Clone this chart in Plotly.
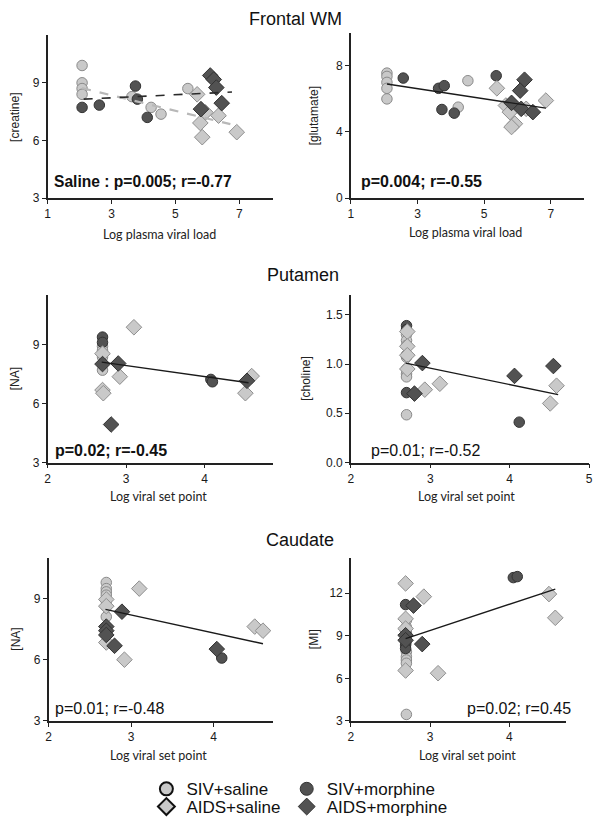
import plotly.graph_objects as go

# page body has an 8px margin, so the figure is shifted by OFF pixels
OFF = 8
W, H = 602 - OFF, 825 - OFF

# ---------------- DATA ----------------
# Panel 1: Frontal WM creatine vs log plasma viral load
p1_siv_sal_x = [2.08, 2.08, 2.08, 2.08, 3.64, 4.24, 4.55, 5.39]
p1_siv_sal_y = [9.9, 9.0, 8.7, 8.4, 8.28, 7.72, 7.37, 8.7]
p1_siv_mor_x = [2.08, 2.62, 3.75, 3.81, 4.12]
p1_siv_mor_y = [7.72, 7.84, 8.83, 8.15, 7.2]
p1_aids_sal_x = [5.68, 5.94, 5.78, 5.84, 6.35, 6.92]
p1_aids_sal_y = [8.4, 7.46, 6.91, 6.17, 7.29, 6.43]
p1_aids_mor_x = [6.09, 6.2, 6.28, 6.45, 5.8]
p1_aids_mor_y = [9.38, 9.17, 8.75, 7.94, 7.63]
p1_fit_mor_x = [2.13, 6.77]
p1_fit_mor_y = [8.15, 8.52]
p1_fit_sal_x = [2.08, 6.72]
p1_fit_sal_y = [8.72, 6.85]

# Panel 2: Frontal WM glutamate vs log plasma viral load
p2_siv_sal_x = [2.08, 2.08, 2.08, 2.08, 2.08, 4.51, 4.22]
p2_siv_sal_y = [7.56, 7.36, 7.0, 6.64, 6.0, 7.1, 5.5]
p2_siv_mor_x = [2.57, 3.63, 3.8, 3.73, 4.1, 5.36]
p2_siv_mor_y = [7.26, 6.64, 6.8, 5.36, 5.14, 7.4]
p2_aids_sal_x = [5.38, 5.65, 5.77, 5.92, 5.82, 6.85, 6.26]
p2_aids_sal_y = [6.64, 5.6, 5.2, 4.5, 4.3, 5.9, 5.4]
p2_aids_mor_x = [6.21, 6.08, 5.82, 6.11, 6.46]
p2_aids_mor_y = [7.16, 6.5, 5.76, 5.4, 5.2]
p2_fit_x = [2.08, 6.85]
p2_fit_y = [6.9, 5.44]

# Panel 3: Putamen NA vs log viral set point
p3_siv_sal_x = [2.7, 2.7, 2.7, 2.7, 2.7]
p3_siv_sal_y = [8.9, 8.7, 8.53, 8.36, 7.69]
p3_siv_mor_x = [2.7, 2.7, 2.7, 4.08, 4.1]
p3_siv_mor_y = [9.37, 9.1, 8.0, 7.22, 7.1]
p3_aids_sal_x = [2.7, 2.7, 2.71, 3.1, 2.92, 4.52, 4.6]
p3_aids_sal_y = [8.53, 6.68, 6.52, 9.87, 7.36, 6.52, 7.39]
p3_aids_mor_x = [2.81, 2.9, 4.54, 2.7]
p3_aids_mor_y = [4.93, 8.03, 7.15, 8.0]
p3_fit_x = [2.69, 4.56]
p3_fit_y = [8.1, 7.05]

# Panel 4: Putamen choline vs log viral set point
p4_siv_sal_x = [2.7, 2.7, 2.7, 2.7, 2.7, 2.7, 2.7, 2.7]
p4_siv_sal_y = [1.3, 1.24, 1.19, 1.07, 0.95, 0.9, 0.87, 0.485]
p4_siv_mor_x = [2.7, 2.7, 2.7, 2.7, 4.12]
p4_siv_mor_y = [1.39, 1.35, 1.09, 0.71, 0.41]
p4_aids_sal_x = [2.71, 2.71, 2.71, 2.71, 2.93, 3.12, 4.51, 4.59]
p4_aids_sal_y = [1.33, 1.18, 1.09, 0.95, 0.74, 0.8, 0.6, 0.78]
p4_aids_mor_x = [2.9, 2.8, 4.06, 4.55]
p4_aids_mor_y = [1.01, 0.7, 0.88, 0.98]
p4_fit_x = [2.69, 4.61]
p4_fit_y = [1.01, 0.69]

# Panel 5: Caudate NA vs log viral set point
p5_siv_sal_x = [2.7, 2.7, 2.7, 2.7, 2.7, 2.7, 2.7]
p5_siv_sal_y = [9.78, 9.48, 9.32, 9.16, 8.88, 8.59, 8.1]
p5_siv_mor_x = [4.1]
p5_siv_mor_y = [6.08]
p5_aids_sal_x = [2.7, 2.7, 2.7, 3.1, 2.92, 4.5, 4.6]
p5_aids_sal_y = [8.95, 8.62, 6.84, 9.48, 6.0, 7.62, 7.42]
p5_aids_mor_x = [2.7, 2.7, 2.7, 2.8, 2.89, 4.04]
p5_aids_mor_y = [7.62, 7.42, 7.21, 6.68, 8.35, 6.52]
p5_fit_x = [2.69, 4.6]
p5_fit_y = [8.46, 6.78]

# Panel 6: Caudate MI vs log viral set point
p6_siv_sal_x = [2.7, 2.7, 2.7, 2.7, 2.7, 2.7, 2.7, 2.7, 2.7]
p6_siv_sal_y = [10.08, 9.6, 9.15, 8.57, 7.87, 7.52, 7.29, 7.06, 3.46]
p6_siv_mor_x = [2.69, 2.69, 2.69, 2.69, 2.69, 4.05, 4.1]
p6_siv_mor_y = [11.19, 9.3, 8.68, 8.34, 8.1, 13.09, 13.16]
p6_aids_sal_x = [2.69, 2.69, 2.69, 2.69, 2.92, 3.1, 4.5, 4.58]
p6_aids_sal_y = [12.68, 10.19, 9.5, 6.55, 11.75, 6.36, 11.93, 10.26]
p6_aids_mor_x = [2.79, 2.9, 2.69, 2.69]
p6_aids_mor_y = [11.12, 8.41, 9.03, 8.68]
p6_fit_x = [2.69, 4.58]
p6_fit_y = [8.8, 12.28]

group_names = ["SIV+saline", "SIV+morphine", "AIDS+saline", "AIDS+morphine"]
section_titles = ["Frontal WM", "Putamen", "Caudate"]
y_titles = ["[creatine]", "[glutamate]", "[NA]", "[choline]", "[NA]", "[MI]"]
x_titles = ["Log plasma viral load", "Log plasma viral load", "Log viral set point",
            "Log viral set point", "Log viral set point", "Log viral set point"]
stat_texts = ["Saline : p=0.005; r=-0.77", "p=0.004; r=-0.55", "p=0.02; r=-0.45",
              "p=0.01; r=-0.52", "p=0.01; r=-0.48", "p=0.02; r=0.45"]

x_ticks = [[1, 3, 5, 7], [1, 3, 5, 7], [2, 3, 4], [2, 3, 4, 5], [2, 3, 4], [2, 3, 4]]
y_ticks = [[3, 6, 9], [0, 4, 8], [3, 6, 9], [0.0, 0.5, 1.0, 1.5], [3, 6, 9], [3, 6, 9, 12]]

# ---------------- STYLE / LAYOUT ----------------
LIGHT = "#c9c9c9"
DARK = "#525252"
styles = [
    dict(symbol="circle", size=10.5, color=LIGHT, line=dict(color="#8a8a8a", width=1)),
    dict(symbol="circle", size=10.5, color=DARK, line=dict(color="#333333", width=1)),
    dict(symbol="diamond", size=12, color=LIGHT, line=dict(color="#8f8f8f", width=1)),
    dict(symbol="diamond", size=12, color=DARK, line=dict(color="#333333", width=1)),
]

def px2fx(px):
    return (px - OFF) / W

def px2fy(py):
    return 1 - (py - OFF) / H

# panel pixel boxes in the page (left, right, top, bottom)
boxes = [(45, 273, 35, 200), (352, 588, 33, 200),
         (45, 273, 298, 467), (352, 593, 298, 467),
         (46, 273, 563, 728), (352, 570, 563, 728)]
x_ranges = [[1, 8.05], [1, 8.0], [2, 4.87], [2, 5], [2, 4.72], [2, 4.72]]
y_ranges = [[3, 11.5], [0, 10], [3, 11.5], [0, 1.7], [3, 11], [3, 14.5]]

panels = [
    (p1_siv_sal_x, p1_siv_sal_y, p1_siv_mor_x, p1_siv_mor_y, p1_aids_sal_x, p1_aids_sal_y, p1_aids_mor_x, p1_aids_mor_y),
    (p2_siv_sal_x, p2_siv_sal_y, p2_siv_mor_x, p2_siv_mor_y, p2_aids_sal_x, p2_aids_sal_y, p2_aids_mor_x, p2_aids_mor_y),
    (p3_siv_sal_x, p3_siv_sal_y, p3_siv_mor_x, p3_siv_mor_y, p3_aids_sal_x, p3_aids_sal_y, p3_aids_mor_x, p3_aids_mor_y),
    (p4_siv_sal_x, p4_siv_sal_y, p4_siv_mor_x, p4_siv_mor_y, p4_aids_sal_x, p4_aids_sal_y, p4_aids_mor_x, p4_aids_mor_y),
    (p5_siv_sal_x, p5_siv_sal_y, p5_siv_mor_x, p5_siv_mor_y, p5_aids_sal_x, p5_aids_sal_y, p5_aids_mor_x, p5_aids_mor_y),
    (p6_siv_sal_x, p6_siv_sal_y, p6_siv_mor_x, p6_siv_mor_y, p6_aids_sal_x, p6_aids_sal_y, p6_aids_mor_x, p6_aids_mor_y),
]
fits = [
    [(p1_fit_sal_x, p1_fit_sal_y, "#b8b8b8", "dash", 2.2), (p1_fit_mor_x, p1_fit_mor_y, "#2a2a2a", "dash", 1.6)],
    [(p2_fit_x, p2_fit_y, "#1a1a1a", "solid", 1.4)],
    [(p3_fit_x, p3_fit_y, "#1a1a1a", "solid", 1.4)],
    [(p4_fit_x, p4_fit_y, "#1a1a1a", "solid", 1.4)],
    [(p5_fit_x, p5_fit_y, "#1a1a1a", "solid", 1.4)],
    [(p6_fit_x, p6_fit_y, "#1a1a1a", "solid", 1.4)],
]

fig = go.Figure()
TICKFONT = dict(family="Liberation Sans, Arial", size=12, color="#1a1a1a")

for i, pdata in enumerate(panels):
    xa = "x" if i == 0 else f"x{i+1}"
    ya = "y" if i == 0 else f"y{i+1}"
    for g in range(4):
        fig.add_trace(go.Scatter(x=pdata[2 * g], y=pdata[2 * g + 1], mode="markers",
                                 marker=styles[g], xaxis=xa, yaxis=ya,
                                 showlegend=False, cliponaxis=False, hoverinfo="x+y"))
    for fx, fy, col, dash, wid in fits[i]:
        fig.add_trace(go.Scatter(x=fx, y=fy, mode="lines", line=dict(color=col, dash=dash, width=wid),
                                 xaxis=xa, yaxis=ya, showlegend=False, hoverinfo="skip"))
    l, r, t, b = boxes[i]
    axkey = "xaxis" if i == 0 else f"xaxis{i+1}"
    aykey = "yaxis" if i == 0 else f"yaxis{i+1}"
    fig.layout[axkey] = dict(domain=[px2fx(l), px2fx(r)], range=x_ranges[i], anchor=ya,
                             tickvals=x_ticks[i], showline=True, linecolor="#222", linewidth=1.5,
                             ticks="outside", ticklen=4, tickcolor="#222", tickwidth=1.2,
                             showgrid=False, zeroline=False, tickfont=TICKFONT)
    fig.layout[aykey] = dict(domain=[px2fy(b), px2fy(t)], range=y_ranges[i], anchor=xa,
                             tickvals=y_ticks[i], showline=True, linecolor="#222", linewidth=1.5,
                             ticks="outside", ticklen=4, tickcolor="#222", tickwidth=1.2,
                             showgrid=False, zeroline=False, tickfont=TICKFONT,
                             tickformat=".1f" if i == 3 else None)

# legend-only traces (no data), one legend per entry so each can be placed
legend_styles = [
    dict(symbol="circle", size=13, color=LIGHT, line=dict(color="#111", width=2)),
    dict(symbol="circle", size=13, color=DARK, line=dict(color="#333", width=1)),
    dict(symbol="diamond", size=13, color=LIGHT, line=dict(color="#111", width=2)),
    dict(symbol="diamond", size=13, color=DARK, line=dict(color="#333", width=1)),
]
legend_ids = ["legend", "legend2", "legend3", "legend4"]
for g in range(4):
    fig.add_trace(go.Scatter(x=[None], y=[None], mode="markers", name=group_names[g],
                             marker=legend_styles[g], legend=legend_ids[g], showlegend=True))

annotations = []
# section titles (first one anchored at its top so it stays inside the figure)
title_pos = [(296, 8, "top"), (303, 278, "middle"), (300, 545, "middle")]
for txt, (xp, yp, yanc) in zip(section_titles, title_pos):
    annotations.append(dict(text=txt, x=px2fx(xp), y=px2fy(yp), xref="paper", yref="paper",
                            showarrow=False, font=dict(family="Liberation Sans, Arial", size=18, color="#111"),
                            xanchor="center", yanchor=yanc, borderpad=0))
# y titles
ytitle_pos = [(12, 118), (315, 117), (12, 382), (307, 382), (13, 645), (314, 645)]
for txt, (xp, yp) in zip(y_titles, ytitle_pos):
    annotations.append(dict(text=txt, x=px2fx(xp), y=px2fy(yp), xref="paper", yref="paper",
                            showarrow=False, textangle=-90,
                            font=dict(family="Liberation Sans, Arial", size=12, color="#222"),
                            xanchor="center", yanchor="middle"))
# x titles
xtitle_pos = [(158, 237), (468, 235), (157, 501), (469, 501), (157, 763), (470, 763)]
for txt, (xp, yp) in zip(x_titles, xtitle_pos):
    annotations.append(dict(text=txt, x=px2fx(xp), y=px2fy(yp), xref="paper", yref="paper",
                            showarrow=False, font=dict(family="Lato", size=12.5, color="#222"),
                            xanchor="center", yanchor="middle"))
# stats texts
stat_pos = [(49, 183, "left"), (360, 183, "left"), (50, 455, "left"),
            (370, 455, "left"), (50, 715, "left"), (577, 715, "right")]
stat_bold = [True, True, True, False, False, False]
stat_size = [15.6, 16, 16, 16, 16, 16]
for txt, (xp, yp, anc), bold, sz in zip(stat_texts, stat_pos, stat_bold, stat_size):
    annotations.append(dict(text=f"<b>{txt}</b>" if bold else txt, x=px2fx(xp), y=px2fy(yp),
                            xref="paper", yref="paper", showarrow=False,
                            font=dict(family="Liberation Sans, Arial", size=sz, color="#111"),
                            xanchor=anc, yanchor="middle"))

LEGFONT = dict(family="Liberation Sans, Arial", size=17, color="#111")
leg_pos = [(145, 797), (287, 797), (145, 815), (287, 815)]
leg_layout = {}
for lid, (lx, ly) in zip(legend_ids, leg_pos):
    leg_layout[lid] = dict(x=px2fx(lx), y=px2fy(ly), xanchor="left", yanchor="middle",
                           font=LEGFONT, bgcolor="rgba(0,0,0,0)", itemwidth=30, borderwidth=0)

fig.update_layout(
    width=W, height=H, margin=dict(l=0, r=0, t=0, b=0),
    paper_bgcolor="white", plot_bgcolor="white",
    annotations=annotations,
    **leg_layout,
)

fig.write_html("out.html")
